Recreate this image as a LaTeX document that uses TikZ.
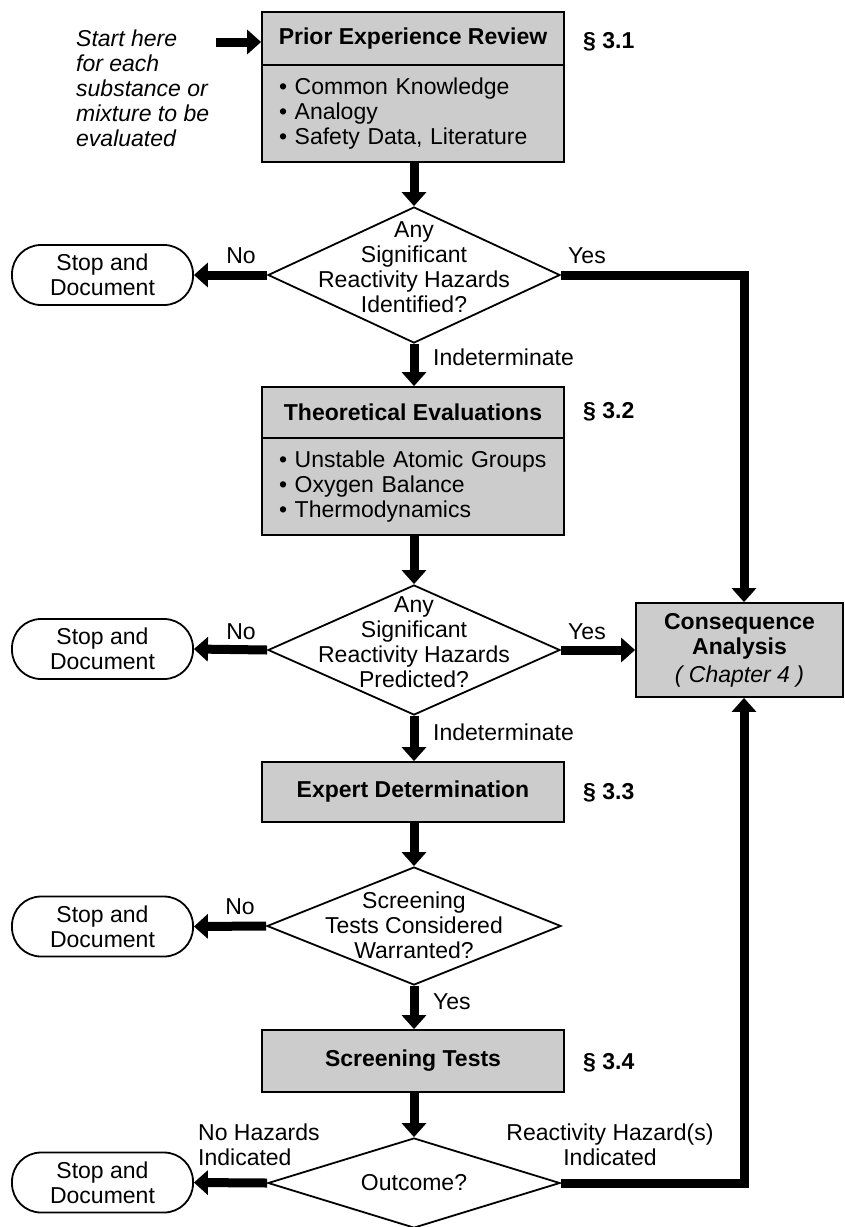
\documentclass[tikz,border=0pt]{standalone}
\usepackage{fontspec}
\setmainfont{Liberation Sans}
\usetikzlibrary{arrows.meta,shapes.geometric}
\definecolor{boxgray}{gray}{0.80}
\newcommand{\fsz}{\fontsize{23}{25}\selectfont}
\tikzset{
  txt/.style={font=\fsz, inner sep=0pt},
  graybox/.style={draw, line width=1.8pt, fill=boxgray, minimum width=302pt, inner sep=0pt, font=\fsz},
  titlebox/.style={graybox, font=\fsz\bfseries},
  listbox/.style={graybox, align=left, text width=268pt, inner xsep=17pt},
  stopbox/.style={draw, line width=1.8pt, rounded corners=29pt, minimum width=181pt, minimum height=60pt, align=center, inner sep=0pt, font=\fsz},
  dia/.style={draw, diamond, line width=1.8pt, fill=white, inner sep=0pt},
  arr/.style={line width=9pt, line join=miter, -{Triangle[width=24pt,length=14pt]}},
  sec/.style={txt, anchor=west, font=\fsz\bfseries},
}
\begin{document}
\begin{tikzpicture}[x=1pt,y=-1pt]
\useasboundingbox (0,0) rectangle (844,1227);

% --- Box 1
\node[titlebox, minimum height=53pt] (per) at (413,38.5) {Prior Experience Review};
\node[listbox, minimum height=97pt] (perb) at (413,113.5) {\textbullet\ Common Knowledge\\ \textbullet\ Analogy\\ \textbullet\ Safety Data, Literature};
\node[sec] (s1) at (583,42) {\S\ 3.1};
\node[txt, align=left, anchor=west, font=\fsz\itshape] (start) at (76,88) {Start here\\for each\\substance or\\mixture to be\\evaluated};
\coordinate (startarr) at (216,42);
\draw[arr] (startarr) -- (per.west |- startarr);

% --- Diamond 1
\node[dia, minimum width=292pt, minimum height=136pt] (d1) at (414,275) {};
\node[txt, align=center] (d1t) at (414,267) {Any\\Significant\\Reactivity Hazards\\Identified?};
\node[stopbox] (st1) at (102.5,275) {Stop and\\Document};
\draw[arr] (perb.south -| d1.north) -- (d1.north);
\draw[arr] (d1.west) -- (st1.east);
\node[txt] (no1) at (241,256) {No};
\node[txt] (yes1) at (587,256) {Yes};

% --- Box 2
\node[titlebox, minimum height=51pt] (the) at (413,412.5) {Theoretical Evaluations};
\node[listbox, minimum height=97pt] (theb) at (413,486.5) {\textbullet\ Unstable Atomic Groups\\ \textbullet\ Oxygen Balance\\ \textbullet\ Thermodynamics};
\node[sec] (s2) at (583,412) {\S\ 3.2};
\draw[arr] (d1.south) -- (the.north -| d1.south);
\node[txt, anchor=west] (ind1) at (433,357) {Indeterminate};

% --- Diamond 2
\node[dia, minimum width=292pt, minimum height=130pt] (d2) at (414,650) {};
\node[txt, align=center] (d2t) at (414,642.5) {Any\\Significant\\Reactivity Hazards\\Predicted?};
\node[stopbox] (st2) at (102.5,649) {Stop and\\Document};
\draw[arr] (theb.south -| d2.north) -- (d2.north);
\draw[arr] (d2.west) -- (st2.east);
\node[txt] (no2) at (241,632) {No};
\node[txt] (yes2) at (587,632) {Yes};

% --- Consequence
\node[graybox, minimum width=207pt, minimum height=94pt, align=center] (cons) at (739.5,650) {\textbf{Consequence}\\\textbf{Analysis}\\[3pt]\textit{( Chapter 4 )}};
\draw[arr] (d2.east) -- (cons.west);
\coordinate (c1) at (744,275);
\draw[arr] (d1.east) -- (c1) -- (cons.north -| c1);

% --- Box 3
\node[titlebox, minimum height=60pt] (exp) at (413,792) {Expert Determination};
\node[sec] (s3) at (583,793) {\S\ 3.3};
\draw[arr] (d2.south) -- (exp.north -| d2.south);
\node[txt, anchor=west] (ind2) at (433,732) {Indeterminate};

% --- Diamond 3
\node[dia, minimum width=294pt, minimum height=118pt] (d3) at (414,926) {};
\node[txt, align=center] (d3t) at (414,925.5) {Screening\\Tests Considered\\Warranted?};
\node[stopbox] (st3) at (102.5,926.5) {Stop and\\Document};
\draw[arr] (exp.south -| d3.north) -- (d3.north);
\draw[arr] (d3.west) -- (st3.east);
\node[txt] (no3) at (240,907) {No};

% --- Box 4
\node[titlebox, minimum height=62pt] (scr) at (413,1061) {Screening Tests};
\node[sec] (s4) at (583,1063) {\S\ 3.4};
\draw[arr] (d3.south) -- (scr.north -| d3.south);
\node[txt, anchor=west] (yes3) at (433,1002) {Yes};

% --- Diamond 4
\node[dia, minimum width=292pt, minimum height=90pt] (d4) at (414,1183) {};
\node[txt] (d4t) at (414,1183) {Outcome?};
\node[stopbox] (st4) at (102.5,1182.5) {Stop and\\Document};
\draw[arr] (scr.south -| d4.north) -- (d4.north);
\draw[arr] (d4.west) -- (st4.east);
\node[txt, align=left, anchor=west] (noh) at (198,1145) {No Hazards\\Indicated};
\node[txt, align=center] (rh) at (610,1145) {Reactivity Hazard(s)\\Indicated};
\coordinate (c2) at (744,1183);
\draw[arr] (d4.east) -- (c2) -- (cons.south -| c2);
\end{tikzpicture}
\end{document}
